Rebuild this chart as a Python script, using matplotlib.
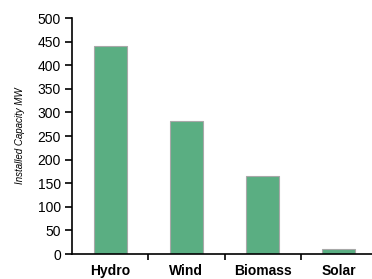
import matplotlib
matplotlib.use("Agg")
import matplotlib.pyplot as plt

# data
sources = ["Hydro", "Wind", "Biomass", "Solar"]
capacity_mw = [441, 281, 165, 10]

plt.rcParams['font.family'] = ['Liberation Sans', 'DejaVu Sans']

fig = plt.figure(figsize=(3.72, 2.79), dpi=100)
ax = fig.add_axes([72 / 372, 25 / 279, 305 / 372, 236 / 279])

x = range(len(sources))
ax.bar(x, capacity_mw, width=0.43, color='#5aae82', edgecolor='#a8a8a8', linewidth=0.8)

ax.set_xlim(-0.5, len(sources) - 0.5)
ax.set_ylim(0, 500)
ax.set_yticks(range(0, 501, 50))
# category separators as major ticks, labels on minor ticks at bar centres
ax.set_xticks([i + 0.5 for i in range(len(sources))])
ax.set_xticklabels([])
ax.set_xticks(list(x), minor=True)
ax.set_xticklabels(sources, minor=True, fontsize=10, fontweight='bold')
ax.tick_params(axis='x', which='minor', length=0, pad=7)
ax.tick_params(axis='x', which='major', direction='out', length=4, width=1.2)
ax.tick_params(axis='y', direction='out', length=5, width=1.2, labelsize=10, pad=3)

for side in ['top', 'right']:
    ax.spines[side].set_visible(False)
for side in ['left', 'bottom']:
    ax.spines[side].set_linewidth(1.2)

ax.set_ylabel('Installed Capacity MW', fontsize=7, fontstyle='italic', labelpad=9)

fig.savefig('out.png', dpi=100)
